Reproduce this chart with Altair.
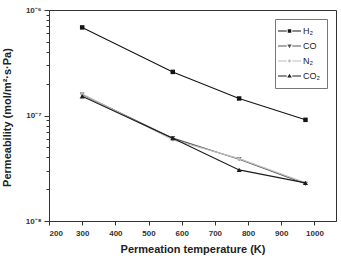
import altair as alt
import pandas as pd

# Permeation temperature (K) and permeability (mol/m2·s·Pa) per gas
temps = [300, 573, 773, 973]
gases = ["H₂", "CO", "N₂", "CO₂"]
h2 = [6.84e-7, 2.59e-7, 1.45e-7, 9.1e-8]
co = [1.58e-7, 6.1e-8, 3.85e-8, 2.25e-8]
n2 = [1.60e-7, 5.9e-8, 3.9e-8, 2.3e-8]
co2 = [1.52e-7, 6.1e-8, 3.05e-8, 2.3e-8]
series = [h2, co, n2, co2]

series_colors = ["#141414", "#555555", "#bdbdbd", "#1c1c1c"]
marker_shapes = ["square", "triangle-down", "circle", "triangle-up"]
marker_sizes = [20, 24, 12, 26]

# legend glyphs (unit = 5 px): short line, marker, short line
seg = "M-1.8,-0.11H-0.05V0.11H-1.8Z M1.05,-0.11H2.8V0.11H1.05Z "
legend_paths = [
    seg + "M0.15,-0.36H0.85V0.36H0.15Z",
    seg + "M0.05,-0.32H0.95L0.5,0.45Z",
    seg + "M0.22,0A0.28,0.28,0,1,0,0.78,0A0.28,0.28,0,1,0,0.22,0Z",
    seg + "M0.05,0.32H0.95L0.5,-0.45Z",
]

x_ticks = [200, 300, 400, 500, 600, 700, 800, 900, 1000]
y_ticks = [k * 10.0 ** e for e in (-8, -7) for k in range(1, 10)] + [1e-6]

rows = []
for gas, vals in zip(gases, series):
    for t, v in zip(temps, vals):
        rows.append({"gas": gas, "T": t, "P": v})
df = pd.DataFrame(rows)

x_enc = alt.X(
    "T:Q",
    scale=alt.Scale(domain=[200, 1065], nice=False, zero=False),
    axis=alt.Axis(
        values=x_ticks,
        format="d",
        title="Permeation temperature (K)",
        tickSize=4,
        labelPadding=4,
        titlePadding=6,
    ),
)
y_enc = alt.Y(
    "P:Q",
    scale=alt.Scale(type="log", domain=[1e-8, 1e-6], nice=False),
    axis=alt.Axis(
        values=y_ticks,
        title="Permeability (mol/m²·s·Pa)",
        labelExpr=(
            "datum.value > 9e-7 ? '10⁻⁶' : "
            "(abs(datum.value - 1e-7) < 1e-10 ? '10⁻⁷' : "
            "(datum.value < 1.01e-8 ? '10⁻⁸' : ''))"
        ),
        tickSize={
            "condition": {
                "test": "abs(log(datum.value)/LN10 - round(log(datum.value)/LN10)) < 0.001",
                "value": 5,
            },
            "value": 3,
        },
        labelPadding=3,
        titleX=-37,
        titleY=107,
    ),
)

layers = []
for gas, color, shape, size in zip(gases, series_colors, marker_shapes, marker_sizes):
    sub = df[df["gas"] == gas]
    base = alt.Chart(sub)
    layers.append(base.mark_line(color=color, strokeWidth=1.1).encode(x=x_enc, y=y_enc))
    layers.append(
        base.mark_point(color=color, shape=shape, size=size, filled=True, opacity=1).encode(
            x=x_enc, y=y_enc
        )
    )

# legend-only layer: no rows pass the filter, the scales carry the entries
legend_layer = (
    alt.Chart(df)
    .transform_filter("false")
    .mark_point(filled=True, opacity=1)
    .encode(
        x=x_enc,
        y=y_enc,
        color=alt.Color(
            "gas:N",
            scale=alt.Scale(domain=gases, range=series_colors),
            legend=alt.Legend(
                title=None,
                orient="none",
                legendX=226,
                legendY=9,
                padding=7,
                strokeColor="#777777",
                symbolSize=100,
                symbolStrokeWidth=0,
                symbolOpacity=1,
                labelOffset=11,
                labelFontSize=9,
                labelFont="Liberation Sans",
                labelColor="#222222",
                rowPadding=5,
            ),
        ),
        shape=alt.Shape("gas:N", scale=alt.Scale(domain=gases, range=legend_paths)),
    )
)
layers.append(legend_layer)

chart = (
    alt.layer(*layers)
    .properties(
        width=287,
        height=211,
        autosize=alt.AutoSizeParams(type="none"),
        padding={"left": 49, "top": 10, "right": 5, "bottom": 38},
        background="white",
    )
    .configure_view(stroke="#333333", strokeWidth=1)
    .configure_axis(
        grid=False,
        domainColor="#333333",
        tickColor="#333333",
        labelFont="Liberation Sans",
        labelFontWeight="bold",
        labelFontSize=8,
        labelColor="#333333",
        titleFont="Liberation Sans",
        titleFontWeight="bold",
        titleFontSize=11,
        titleColor="#222222",
    )
)

chart.save("out.html", embed_options={"renderer": "svg", "actions": False})
